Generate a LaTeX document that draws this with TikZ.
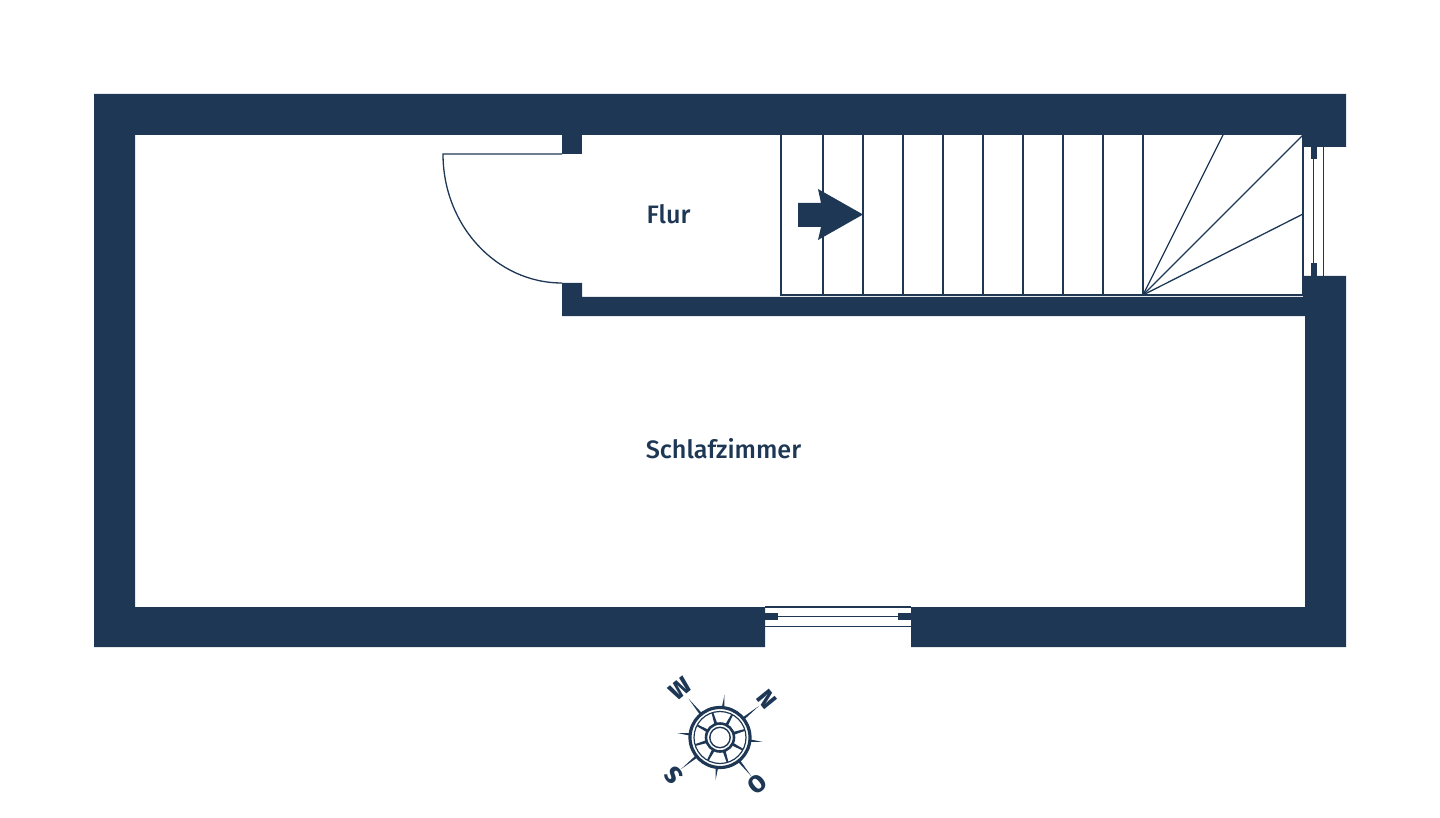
\documentclass[tikz,border=0pt]{standalone}
\usepackage{fontspec}
\setmainfont{Fira Sans Medium}
\usepackage{xcolor}
\definecolor{wallblue}{HTML}{1D3755}
\tikzstyle{wall} = [fill=wallblue,draw=none]
\tikzstyle{thinline} = [draw=wallblue,line width=0.65pt]
\tikzstyle{room} = [text=wallblue,font=\fontsize{12.6}{14}\selectfont,inner sep=0pt]
\tikzstyle{wind} = [text=wallblue,font=\bfseries\fontsize{12}{14}\selectfont,inner sep=0pt]

\begin{document}
\begin{tikzpicture}[x=0.5pt,y=-0.5pt]
\useasboundingbox (0,0) rectangle (1440,818);
%% outer walls
\fill[wall] (94,94) -- (1346,94) -- (1346,147) -- (1303,147) -- (1303,135) -- (135,135)
  -- (135,607) -- (765,607) -- (765,647) -- (94,647) -- cycle;
\fill[wall] (1303,276) -- (1346,276) -- (1346,647) -- (911,647) -- (911,607) -- (1305,607)
  -- (1305,316) -- (562,316) -- (562,283) -- (582,283) -- (582,297) -- (1303,297) -- cycle;
\fill[wall] (562,130) rectangle (582,154);
%% door
\draw[thinline] (562,154) -- (443,154) .. controls (443,225) and (496,283) .. (562,283);
%% stairs
\draw[thinline] (781,135) -- (781,295) -- (1303,295) -- (1303,135);
\foreach \sx in {823,863,903,943,983,1023,1063,1103,1143}
  \draw[thinline] (\sx,135) -- (\sx,295);
\foreach \ex/\ey in {1223/135,1303/135,1303/214}
  \draw[thinline] (1143,295) -- (\ex,\ey);
\fill[wall] (798,203) -- (821,203) -- (818,189) -- (863,214.5) -- (818,240) -- (821,227) -- (798,227) -- cycle;
%% windows
\draw[thinline] (1323.5,147) -- (1323.5,276);
\draw[thinline] (1313.5,147) -- (1313.5,276);
\fill[wall] (1311,147) rectangle (1316.5,159);
\fill[wall] (1311,263) rectangle (1316.5,276);
\draw[thinline] (765,607) -- (911,607);
\draw[thinline] (765,616.5) -- (911,616.5);
\draw[thinline] (765,626.5) -- (911,626.5);
\fill[wall] (765,613) rectangle (778,620);
\fill[wall] (898,613) rectangle (911,620);
%% labels
\node[room] (flur) at (668.5,214) {Flur};
\node[room] (schlafzimmer) at (723.5,449) {Schlafzimmer};
%% compass
\begin{scope}[shift={(720,737.5)}]
\draw[wallblue,line width=1.6pt] (0,0) circle[radius=15pt];
\draw[wallblue,line width=0.6pt] (0,0) circle[radius=13pt];
\draw[wallblue,line width=1.3pt] (0,0) circle[radius=7pt];
\draw[wallblue,line width=0.7pt] (0,0) circle[radius=5.1pt];
\foreach \a in {17,62,107,152,197,242,287,332}
  \fill[wall] (\a+6:7pt) -- (\a+2:12.9pt) -- (\a-2:12.9pt) -- (\a-6:7pt) -- cycle;
\foreach \a in {39,129,219,309}
  \fill[wall] (\a+2.5:15pt) -- (\a:25pt) -- (\a-2.5:15pt) -- cycle;
\foreach \a in {84,174,264,354}
  \fill[wall] (\a+2.5:15pt) -- (\a:21.5pt) -- (\a-2.5:15pt) -- cycle;
\node[wind,rotate=-51] (north) at (39:30pt) {N};
\node[wind,rotate=39] (west) at (129:31.5pt) {W};
\node[wind,rotate=129] (south) at (219:30pt) {S};
\node[wind,rotate=-141] (east) at (309:30pt) {O};
\end{scope}
\end{tikzpicture}
\end{document}
